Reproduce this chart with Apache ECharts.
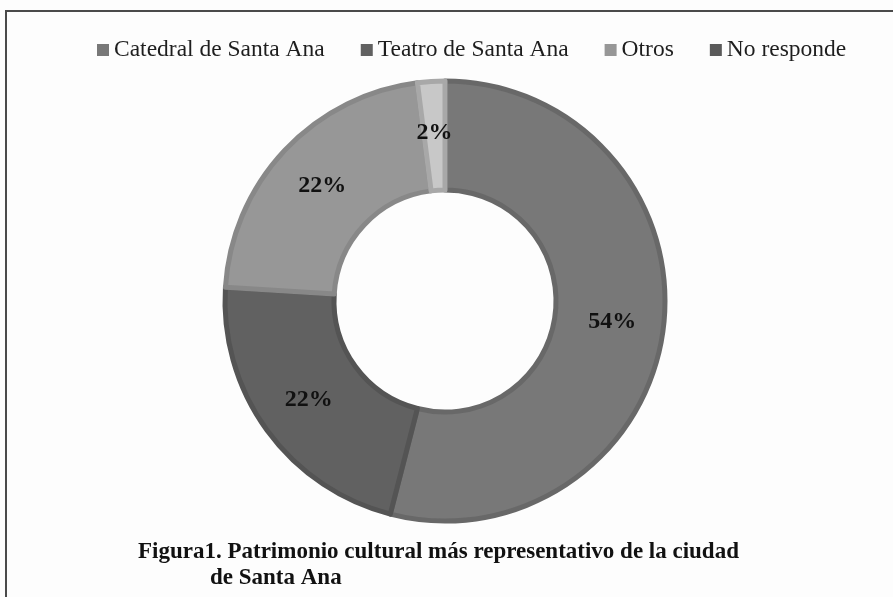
<!DOCTYPE html>
<html>
<head>
<meta charset="utf-8">
<script src="https://cdn.jsdelivr.net/npm/echarts@6/dist/echarts.min.js"></script>
<style>
  html, body { margin: 0; padding: 0; background: #fdfdfd; }
  #chart { width: 893px; height: 597px; }
</style>
</head>
<body>
<div id="chart"></div>
<script>
// categorias y porcentajes
const categories = ['Catedral de Santa Ana', 'Teatro de Santa Ana', 'Otros', 'No responde'];
const percents = [54, 22, 22, 2];
const fillColors = ['#787878', '#616161', '#979797', '#c8c8c8'];
const edgeColors = ['#686868', '#545454', '#888888', '#a8a8a8'];
const legendColors = ['#787878', '#616161', '#979797', '#5a5a5a'];

const serif = '"Liberation Serif", "Times New Roman", serif';

const pieData = categories.map((name, i) => ({
  name: name,
  value: percents[i],
  itemStyle: { color: fillColors[i], borderColor: edgeColors[i], borderWidth: 5 }
}));

const legendData = categories.map((name, i) => ({
  name: name,
  itemStyle: { color: legendColors[i], borderWidth: 0 }
}));

const chart = echarts.init(document.getElementById('chart'));
chart.setOption({
  backgroundColor: '#fdfdfd',
  animation: false,
  title: [
    {
      text: 'Figura1. Patrimonio cultural más representativo de la ciudad',
      left: 133,
      top: 536,
      textStyle: { fontFamily: serif, fontSize: 23, fontWeight: 'bold', color: '#111' }
    },
    {
      text: 'de Santa Ana',
      left: 205,
      top: 562,
      textStyle: { fontFamily: serif, fontSize: 23, fontWeight: 'bold', color: '#111' }
    }
  ],
  legend: {
    data: legendData,
    left: 92,
    top: 33,
    icon: 'rect',
    itemWidth: 12,
    itemHeight: 12,
    itemGap: 36,
    textStyle: { fontFamily: serif, fontSize: 23.5, color: '#1e1e1e' }
  },
  graphic: [
    {
      type: 'rect',
      shape: { x: 6, y: 11, width: 1000, height: 1000 },
      style: { fill: 'none', stroke: '#4a4a4a', lineWidth: 2 },
      silent: true
    }
  ],
  series: [
    {
      type: 'pie',
      center: [445, 301],
      radius: [111, 220],
      startAngle: 90,
      clockwise: true,
      data: pieData,
      label: {
        show: true,
        position: 'inside',
        formatter: '{c}%',
        fontFamily: serif,
        fontSize: 24,
        fontWeight: 'bold',
        color: '#111'
      },
      labelLine: { show: false },
      emphasis: { disabled: true }
    }
  ]
});
</script>
</body>
</html>
